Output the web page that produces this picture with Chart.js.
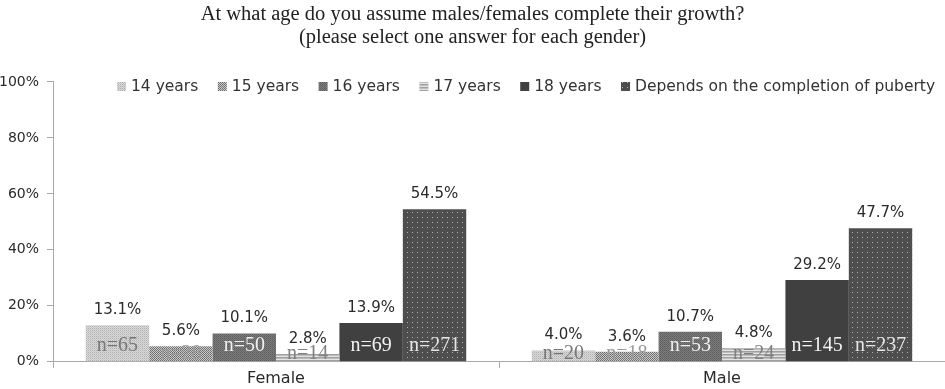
<!DOCTYPE html>
<html><head><meta charset="utf-8">
<script src="https://cdn.jsdelivr.net/npm/chart.js@4"></script>
<style>html,body{margin:0;padding:0;background:#fff;}canvas{display:block;}</style>
</head><body>
<canvas id="c" width="945" height="389"></canvas>
<script>
const categories = ["Female", "Male"];
const seriesLabels = ["14 years", "15 years", "16 years", "17 years", "18 years", "Depends on the completion of puberty"];
const pct14 = [13.1, 4.0];
const pct15 = [5.6, 3.6];
const pct16 = [10.1, 10.7];
const pct17 = [2.8, 4.8];
const pct18 = [13.9, 29.2];
const pctDep = [54.5, 47.7];
const n14 = [65, 20];
const n15 = [28, 18];
const n16 = [50, 53];
const n17 = [14, 24];
const n18 = [69, 145];
const nDep = [271, 237];
const yTicks = [0, 20, 40, 60, 80, 100];

function makePattern(w, h, bg, dots) {
  const c = document.createElement('canvas'); c.width = w; c.height = h;
  const g = c.getContext('2d');
  g.fillStyle = bg; g.fillRect(0, 0, w, h);
  dots.forEach(d => { g.fillStyle = d[2]; g.fillRect(d[0], d[1], d[3] || 1, d[4] || 1); });
  return g.createPattern(c, 'repeat');
}
const ctx = document.getElementById('c').getContext('2d');
const fills = [
  makePattern(2, 2, '#d8d8d8', [[0,0,'#b0b0b0'],[1,1,'#c8c8c8']]),
  makePattern(2, 2, '#c8c8c8', [[0,0,'#6a6a6a'],[1,1,'#7a7a7a']]),
  makePattern(2, 2, '#7c7c7c', [[0,0,'#5c5c5c'],[1,1,'#686868']]),
  makePattern(1, 3, '#e4e4e4', [[0,0,'#a0a0a0'],[0,1,'#bdbdbd']]),
  '#404040',
  makePattern(5, 5, '#4e4e4e', [[2,2,'#b0b0b0']])
];
const nColors = ['#777777', '#9a9a9a', '#f0f0f0', '#808080', '#f2f2f2', '#e6e6e6'];
const pctData = [pct14, pct15, pct16, pct17, pct18, pctDep];
const nData = [n14, n15, n16, n17, n18, nDep];

const datasets = seriesLabels.map((l, i) => ({
  label: l, data: pctData[i], backgroundColor: fills[i], borderWidth: 0,
  barPercentage: 1.0, categoryPercentage: 0.853
}));

const labelPlugin = {
  id: 'labels',
  afterDatasetsDraw(chart) {
    const g = chart.ctx;
    g.save();
    chart.data.datasets.forEach((ds, i) => {
      const meta = chart.getDatasetMeta(i);
      meta.data.forEach((bar, j) => {
        g.textAlign = 'center'; g.textBaseline = 'middle';
        g.font = '15px "DejaVu Sans"'; g.fillStyle = '#2a2a2a';
        g.fillText(pctData[i][j].toFixed(1) + '%', bar.x, bar.y - 15);
        const h = bar.base - bar.y;
        const cy = h < 20 ? bar.base - 8 : bar.base - 16;
        g.font = '20px "Liberation Serif"'; g.fillStyle = nColors[i];
        g.fillText('n=' + nData[i][j], bar.x, cy);
      });
    });
    g.restore();
  }
};
const legendPlugin = {
  id: 'customLegend',
  afterDraw(chart) {
    const g = chart.ctx;
    g.save();
    g.font = '15.5px "DejaVu Sans"'; g.textBaseline = 'middle'; g.textAlign = 'left';
    let x = 117; const y = 87;
    chart.data.datasets.forEach((ds, i) => {
      g.fillStyle = ds.backgroundColor; g.fillRect(x, y - 5, 9, 9);
      g.fillStyle = '#333333';
      g.fillText(ds.label, x + 14, y);
      x += 14 + g.measureText(ds.label).width + 19.5;
    });
    g.restore();
  }
};

new Chart(ctx, {
  type: 'bar',
  data: { labels: categories, datasets },
  options: {
    responsive: false, animation: false, devicePixelRatio: 1,
    layout: { padding: { left: 0, right: 0, top: 0, bottom: 0 } },
    plugins: {
      legend: { display: false }, tooltip: { enabled: false },
      title: { display: true, text: ["At what age do you assume males/females complete their growth?", "(please select one answer for each gender)"],
        font: { family: '"Liberation Serif"', size: 20.5, weight: 'normal', lineHeight: 1.12 }, color: '#222', padding: { top: 3, bottom: 33 } }
    },
    scales: {
      x: {
        grid: { drawOnChartArea: false, drawTicks: true, tickLength: 6, color: '#a8a8a8', offset: true },
        border: { color: '#a8a8a8' },
        ticks: { font: { family: '"DejaVu Sans"', size: 16 }, color: '#2a2a2a', padding: 1 }
      },
      y: {
        min: 0, max: 100,
        afterBuildTicks(axis) { axis.ticks = yTicks.map(v => ({ value: v })); },
        afterFit(axis) { axis.width = 53; },
        grid: { drawOnChartArea: false, drawTicks: true, tickLength: 6, color: '#a8a8a8' },
        border: { color: '#a8a8a8' },
        ticks: { font: { family: '"DejaVu Sans"', size: 14 }, color: '#2a2a2a', padding: 8, callback: v => v + '%' }
      }
    }
  },
  plugins: [labelPlugin, legendPlugin]
});
</script>
</body></html>
